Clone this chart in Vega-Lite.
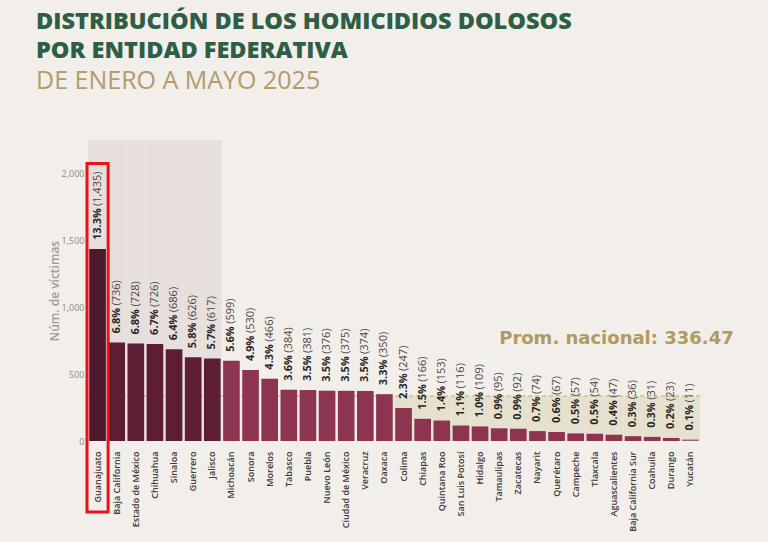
{
  "$schema": "https://vega.github.io/schema/vega-lite/v6.json",
  "autosize": "none",
  "width": 612,
  "height": 301,
  "padding": {"left": 88, "top": 140, "right": 68, "bottom": 101},
  "background": "#f2eee9",
  "config": {"view": {"stroke": null}, "font": "Open Sans"},
  "title": {
    "text": ["DISTRIBUCIÓN DE LOS HOMICIDIOS DOLOSOS", "POR ENTIDAD FEDERATIVA"],
    "subtitle": "DE ENERO A MAYO 2025",
    "anchor": "start",
    "frame": "group",
    "dx": -52,
    "offset": 46,
    "font": "Open Sans",
    "fontSize": 23.5,
    "fontWeight": 800,
    "lineHeight": 29,
    "color": "#2e5e45",
    "subtitleFont": "Open Sans",
    "subtitleFontSize": 25,
    "subtitleFontWeight": 400,
    "subtitleColor": "#b39b6c",
    "subtitlePadding": 7
  },
  "datasets": {
    "homicidios": [
      {"estado": "Guanajuato", "victimas": 1435, "pct": "13.3%", "n": "(1,435)"},
      {"estado": "Baja California", "victimas": 736, "pct": "6.8%", "n": "(736)"},
      {"estado": "Estado de México", "victimas": 728, "pct": "6.8%", "n": "(728)"},
      {"estado": "Chihuahua", "victimas": 726, "pct": "6.7%", "n": "(726)"},
      {"estado": "Sinaloa", "victimas": 686, "pct": "6.4%", "n": "(686)"},
      {"estado": "Guerrero", "victimas": 626, "pct": "5.8%", "n": "(626)"},
      {"estado": "Jalisco", "victimas": 617, "pct": "5.7%", "n": "(617)"},
      {"estado": "Michoacán", "victimas": 599, "pct": "5.6%", "n": "(599)"},
      {"estado": "Sonora", "victimas": 530, "pct": "4.9%", "n": "(530)"},
      {"estado": "Morelos", "victimas": 466, "pct": "4.3%", "n": "(466)"},
      {"estado": "Tabasco", "victimas": 384, "pct": "3.6%", "n": "(384)"},
      {"estado": "Puebla", "victimas": 381, "pct": "3.5%", "n": "(381)"},
      {"estado": "Nuevo León", "victimas": 376, "pct": "3.5%", "n": "(376)"},
      {"estado": "Ciudad de México", "victimas": 375, "pct": "3.5%", "n": "(375)"},
      {"estado": "Veracruz", "victimas": 374, "pct": "3.5%", "n": "(374)"},
      {"estado": "Oaxaca", "victimas": 350, "pct": "3.3%", "n": "(350)"},
      {"estado": "Colima", "victimas": 247, "pct": "2.3%", "n": "(247)"},
      {"estado": "Chiapas", "victimas": 166, "pct": "1.5%", "n": "(166)"},
      {"estado": "Quintana Roo", "victimas": 153, "pct": "1.4%", "n": "(153)"},
      {"estado": "San Luis Potosí", "victimas": 116, "pct": "1.1%", "n": "(116)"},
      {"estado": "Hidalgo", "victimas": 109, "pct": "1.0%", "n": "(109)"},
      {"estado": "Tamaulipas", "victimas": 95, "pct": "0.9%", "n": "(95)"},
      {"estado": "Zacatecas", "victimas": 92, "pct": "0.9%", "n": "(92)"},
      {"estado": "Nayarit", "victimas": 74, "pct": "0.7%", "n": "(74)"},
      {"estado": "Querétaro", "victimas": 67, "pct": "0.6%", "n": "(67)"},
      {"estado": "Campeche", "victimas": 57, "pct": "0.5%", "n": "(57)"},
      {"estado": "Tlaxcala", "victimas": 54, "pct": "0.5%", "n": "(54)"},
      {"estado": "Aguascalientes", "victimas": 47, "pct": "0.4%", "n": "(47)"},
      {"estado": "Baja California Sur", "victimas": 36, "pct": "0.3%", "n": "(36)"},
      {"estado": "Coahuila", "victimas": 31, "pct": "0.3%", "n": "(31)"},
      {"estado": "Durango", "victimas": 23, "pct": "0.2%", "n": "(23)"},
      {"estado": "Yucatán", "victimas": 11, "pct": "0.1%", "n": "(11)"}
    ],
    "promedio": [{"promedio": 336.47}]
  },
  "data": {"name": "homicidios"},
  "encoding": {
    "x": {
      "field": "estado",
      "type": "nominal",
      "sort": null,
      "scale": {
        "domain": ["Guanajuato", "Baja California", "Estado de México", "Chihuahua", "Sinaloa", "Guerrero", "Jalisco", "Michoacán", "Sonora", "Morelos", "Tabasco", "Puebla", "Nuevo León", "Ciudad de México", "Veracruz", "Oaxaca", "Colima", "Chiapas", "Quintana Roo", "San Luis Potosí", "Hidalgo", "Tamaulipas", "Zacatecas", "Nayarit", "Querétaro", "Campeche", "Tlaxcala", "Aguascalientes", "Baja California Sur", "Coahuila", "Durango", "Yucatán"],
        "paddingInner": 0.13,
        "paddingOuter": 0.065
      },
      "axis": {
        "title": null,
        "labelAngle": -90,
        "labelPadding": 10,
        "labelFontSize": 9,
        "labelFontWeight": 600,
        "labelColor": "#3d3a3a",
        "ticks": false,
        "domain": false
      }
    }
  },
  "layer": [
    {
      "transform": [{"filter": "datum.victimas >= 617"}],
      "mark": {"type": "bar", "width": {"band": 1.149}, "color": "#e7dfdb"},
      "encoding": {
        "y": {
          "datum": 2250,
          "type": "quantitative",
          "scale": {"domain": [0, 2250], "nice": false},
          "axis": {
            "title": "Núm. de víctimas",
            "titleFontSize": 12,
            "titleFontWeight": 600,
            "titleColor": "#a39c98",
            "titlePadding": 0,
            "values": [0, 500, 1000, 1500, 2000],
            "format": ",d",
            "labelFontSize": 9,
            "labelColor": "#8f8b88",
            "labelPadding": 4,
            "ticks": false,
            "domain": false,
            "grid": false
          }
        }
      }
    },
    {
      "transform": [{"filter": "datum.victimas < 336.47"}],
      "mark": {"type": "bar", "width": {"band": 1.149}, "color": "#e6e1cf"},
      "encoding": {"y": {"datum": 336.47, "type": "quantitative"}}
    },
    {
      "data": {"name": "promedio"},
      "mark": {"type": "rule", "color": "#b8aa84", "strokeDash": [4, 3], "strokeWidth": 1},
      "encoding": {"x": null, "y": {"field": "promedio", "type": "quantitative"}}
    },
    {
      "mark": {"type": "bar"},
      "encoding": {
        "y": {"field": "victimas", "type": "quantitative"},
        "color": {
          "condition": [
            {"test": "datum.victimas >= 1000", "value": "#4c1a2c"},
            {"test": "datum.victimas >= 617", "value": "#5c1d35"},
            {"test": "datum.victimas < 20", "value": "#976b76"}
          ],
          "value": "#8d3451"
        }
      }
    },
    {
      "mark": {"type": "text", "angle": -90, "align": "left", "baseline": "middle", "dx": 9, "fontSize": 11, "fontWeight": 700, "color": "#2b2626"},
      "encoding": {"y": {"field": "victimas", "type": "quantitative"}, "text": {"field": "pct"}}
    },
    {
      "transform": [{"filter": "datum.victimas < 1000"}],
      "mark": {"type": "text", "angle": -90, "align": "left", "baseline": "middle", "dx": 37, "fontSize": 11, "fontWeight": 400, "color": "#4a4444"},
      "encoding": {"y": {"field": "victimas", "type": "quantitative"}, "text": {"field": "n"}}
    },
    {
      "transform": [{"filter": "datum.victimas >= 1000"}],
      "mark": {"type": "text", "angle": -90, "align": "left", "baseline": "middle", "dx": 43, "fontSize": 11, "fontWeight": 400, "color": "#4a4444"},
      "encoding": {"y": {"field": "victimas", "type": "quantitative"}, "text": {"field": "n"}}
    },
    {
      "data": {"name": "promedio"},
      "mark": {"type": "text", "text": "Prom. nacional: 336.47", "align": "left", "baseline": "alphabetic", "font": "DejaVu Sans", "fontSize": 18, "fontWeight": 700, "color": "#b09a62"},
      "encoding": {"x": {"datum": "Tamaulipas"}, "y": {"datum": 724, "type": "quantitative"}}
    },
    {
      "transform": [{"filter": "datum.estado === 'Guanajuato'"}],
      "mark": {"type": "bar", "width": {"band": 1.27}, "fill": null, "stroke": "#e8131b", "strokeWidth": 3},
      "encoding": {"y": {"datum": 2075, "type": "quantitative"}, "y2": {"datum": -530}}
    }
  ]
}
